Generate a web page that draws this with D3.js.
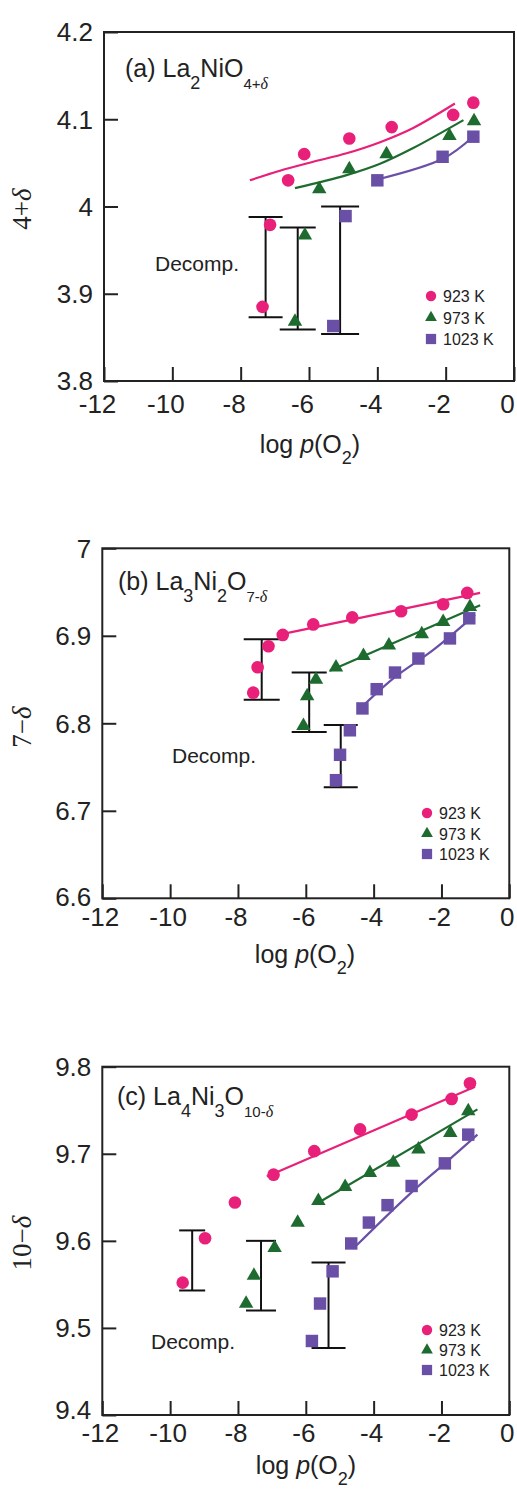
<!DOCTYPE html>
<head>
  <meta charset="utf-8">
  <script src="https://d3js.org/d3.v7.min.js"></script>
  <style>
    body { margin:0; background:#fff; }
    svg { display:block; }
    text { font-family: "Liberation Sans", Arial, sans-serif; fill:#222; }
    .serif { font-family: "Liberation Serif", "Times New Roman", serif; }
  </style>
</head>
<body>
<script>
// ---- data ----
var xTicks = [-12, -10, -8, -6, -4, -2, 0];
var temps = ["923 K", "973 K", "1023 K"];
var colors = ["#e8207a", "#1e6b30", "#6a4fa6"];

// (a) La2NiO4+d
var aTicks = [3.8, 3.9, 4, 4.1, 4.2];
var a923 = [[-6.61,4.030],[-6.14,4.060],[-4.82,4.078],[-3.58,4.091],[-1.78,4.105],[-1.19,4.119]];
var a923Dec = [[-7.14,3.979],[-7.36,3.885]];
var a923Fit = [[-7.73,4.030],[-6.85,4.041],[-5.9,4.051],[-4.9,4.061],[-3.9,4.074],[-2.95,4.090],[-1.73,4.118]];
var a973 = [[-5.70,4.020],[-4.82,4.043],[-3.73,4.060],[-1.89,4.081],[-1.17,4.098]];
var a973Dec = [[-6.12,3.967],[-6.41,3.868]];
var a973Fit = [[-6.41,4.021],[-4.9,4.036],[-3.92,4.049],[-2.95,4.067],[-1.48,4.099]];
var a1023 = [[-4.00,4.030],[-2.09,4.057],[-1.19,4.080]];
var a1023Dec = [[-4.93,3.989],[-5.29,3.863]];
var a1023Fit = [[-4.00,4.031],[-2.07,4.055],[-1.2,4.080]];
var aBars = [[-7.27,3.873,3.988],[-6.33,3.859,3.976],[-5.09,3.854,4.000]];

// (b) La3Ni2O7-d
var bTicks = [6.6, 6.7, 6.8, 6.9, 7];
var b923 = [[-6.68,6.901],[-5.78,6.913],[-4.63,6.921],[-3.19,6.928],[-1.95,6.936],[-1.24,6.949]];
var b923Dec = [[-7.10,6.888],[-7.42,6.864],[-7.55,6.835]];
var b923Fit = [[-6.81,6.901],[-0.86,6.949]];
var b973 = [[-5.11,6.864],[-4.30,6.877],[-3.55,6.889],[-2.58,6.902],[-1.95,6.916],[-1.16,6.933]];
var b973Dec = [[-5.70,6.850],[-5.96,6.831],[-6.07,6.797]];
var b973Fit = [[-5.29,6.860],[-0.86,6.935]];
var b1023 = [[-4.33,6.817],[-3.91,6.839],[-3.37,6.858],[-2.68,6.874],[-1.75,6.897],[-1.18,6.920]];
var b1023Dec = [[-4.70,6.792],[-4.99,6.764],[-5.11,6.735]];
var b1023Fit = [[-4.45,6.815],[-3.4,6.852],[-2.24,6.884],[-1.01,6.924]];
var bBars = [[-7.30,6.827,6.896],[-5.90,6.790,6.858],[-4.97,6.727,6.798]];

// (c) La4Ni3O10-d
var cTicks = [9.4, 9.5, 9.6, 9.7, 9.8];
var c923 = [[-8.09,9.644],[-6.95,9.676],[-5.75,9.703],[-4.40,9.728],[-2.88,9.745],[-1.70,9.763],[-1.16,9.781]];
var c923Dec = [[-8.97,9.603],[-9.63,9.552]];
var c923Fit = [[-7.15,9.674],[-1.01,9.777]];
var c973 = [[-6.24,9.621],[-5.63,9.646],[-4.84,9.662],[-4.11,9.678],[-3.42,9.690],[-2.68,9.705],[-1.74,9.724],[-1.21,9.749]];
var c973Dec = [[-6.92,9.592],[-7.53,9.560],[-7.76,9.528]];
var c973Fit = [[-5.62,9.644],[-0.94,9.751]];
var c1023 = [[-4.66,9.597],[-4.14,9.621],[-3.59,9.641],[-2.88,9.663],[-1.90,9.689],[-1.21,9.722]];
var c1023Dec = [[-5.21,9.565],[-5.58,9.528],[-5.82,9.485]];
var c1023Fit = [[-4.50,9.595],[-2.93,9.654],[-1.9,9.689],[-0.94,9.722]];
var cBars = [[-9.35,9.543,9.612],[-7.32,9.520,9.600],[-5.33,9.477,9.575]];

// ---- layout ----
var panels = [
  { left:104, right:514, top:32, bottom:381, ticks:aTicks, lowShift:0,
    pts:[a923.concat(a923Dec), a973.concat(a973Dec), a1023.concat(a1023Dec)],
    fits:[a923Fit, a973Fit, a1023Fit], bars:aBars, caps:[17,18,19],
    ylab:"4+\u03b4", ylabY:209, xlabDx:-7, xlabGap:32, xtitle:[310,453], titleX:125, titleY:77,
    title:[["(a) La",0],["2",1],["NiO",0],["4+",2],["\u03b4",3]],
    decomp:[155,271], legend:[431,443,296,21.5] },
  { left:102.3, right:509.3, top:548.3, bottom:898.3, ticks:bTicks, lowShift:-2,
    pts:[b923.concat(b923Dec), b973.concat(b973Dec), b1023.concat(b1023Dec)],
    fits:[b923Fit, b973Fit, b1023Fit], bars:bBars, caps:[18,17.5,17],
    ylab:"7\u2212\u03b4", ylabY:727, xlabDx:-2.5, xlabGap:28, xtitle:[305,963], titleX:118, titleY:590,
    title:[["(b) La",0],["3",1],["Ni",0],["2",1],["O",0],["7-",2],["\u03b4",3]],
    decomp:[172,763], legend:[427,439,813,20.5] },
  { left:102.3, right:509.3, top:1066.7, bottom:1415, ticks:cTicks, lowShift:-5,
    pts:[c923.concat(c923Dec), c973.concat(c973Dec), c1023.concat(c1023Dec)],
    fits:[c923Fit, c973Fit, c1023Fit], bars:cBars, caps:[13,15,17],
    ylab:"10\u2212\u03b4", ylabY:1243, xlabDx:-2.5, xlabGap:27, xtitle:[306,1474], titleX:117, titleY:1105,
    title:[["(c) La",0],["4",1],["Ni",0],["3",1],["O",0],["10-",2],["\u03b4",3]],
    decomp:[151,1349], legend:[427,439,1330,20] }
];

var svg = d3.select("body").append("svg")
  .attr("width", 517).attr("height", 1490);

var shapes = [d3.symbolCircle, d3.symbolTriangle, d3.symbolSquare];
var sizes = [125, 90, 155];
var legSizes = [85, 60, 105];

panels.forEach(function(p) {
  var x = d3.scaleLinear().domain([-12, 0]).range([p.left, p.right]);
  var y = d3.scaleLinear().domain([p.ticks[0], p.ticks[p.ticks.length-1]]).range([p.bottom, p.top]);
  var g = svg.append("g");

  // frame
  g.append("rect").attr("x", p.left).attr("y", p.top)
    .attr("width", p.right - p.left).attr("height", p.bottom - p.top)
    .attr("fill", "none").attr("stroke", "#222").attr("stroke-width", 2);

  // y axis (inner ticks)
  var ya = g.append("g").attr("transform", "translate(" + p.left + ",0)")
    .call(d3.axisLeft(y).tickValues(p.ticks).tickSizeInner(-14).tickSizeOuter(0)
      .tickFormat(d3.format("")));
  ya.select(".domain").remove();
  ya.selectAll("line").attr("stroke", "#222").attr("stroke-width", 2);
  ya.selectAll("text").attr("font-size", 26).attr("x", -11)
    .attr("y", function(d, i) { return i === 0 ? p.lowShift : 0; })
    .attr("dy", "0.34em")
    .style("font-family", "'Liberation Sans', Arial, sans-serif").attr("fill", "#222");

  // x axis (inner ticks)
  var xa = g.append("g").attr("transform", "translate(0," + p.bottom + ")")
    .call(d3.axisBottom(x).tickValues(xTicks).tickSizeInner(-14).tickSizeOuter(0)
      .tickFormat(d3.format("")));
  xa.select(".domain").remove();
  xa.selectAll("line").attr("stroke", "#222").attr("stroke-width", 2);
  xa.selectAll("text").attr("font-size", 26).attr("y", p.xlabGap).attr("dy", 0)
    .attr("dx", p.xlabDx).text(function(d) { return d < 0 ? "-" + (-d) : d; })
    .style("font-family", "'Liberation Sans', Arial, sans-serif").attr("fill", "#222");

  // x title
  var xt = g.append("text").attr("x", p.xtitle[0]).attr("y", p.xtitle[1])
    .attr("text-anchor", "middle").attr("font-size", 25);
  xt.append("tspan").text("log ");
  xt.append("tspan").attr("font-style", "italic").text("p");
  xt.append("tspan").text("(O");
  xt.append("tspan").attr("font-size", 18).attr("dy", 11).text("2");
  xt.append("tspan").attr("dy", -11).text(")");

  // y title
  g.append("text").attr("class", "serif")
    .attr("transform", "translate(31," + p.ylabY + ") rotate(-90)")
    .attr("text-anchor", "middle").attr("font-size", 27)
    .selectAll("tspan").data(p.ylab.split("")).join("tspan")
    .attr("font-style", function(d) { return d === "\u03b4" ? "italic" : null; })
    .text(function(d) { return d; });

  // panel title with subscripts
  var tt = g.append("text").attr("x", p.titleX).attr("y", p.titleY).attr("font-size", 25);
  var shift = 0;
  p.title.forEach(function(part) {
    var s = tt.append("tspan").text(part[0]);
    var want = part[1] === 0 ? 0 : 12;
    s.attr("dy", want - shift); shift = want;
    if (part[1] === 1) s.attr("font-size", 18);
    if (part[1] === 2) s.attr("font-size", 15);
    if (part[1] === 3) s.attr("font-size", 16).attr("font-style", "italic").attr("class", "serif");
  });

  // fitted lines
  var line = d3.line().x(function(d) { return x(d[0]); }).y(function(d) { return y(d[1]); })
    .curve(d3.curveCatmullRom.alpha(0.5));
  p.fits.forEach(function(f, i) {
    g.append("path").datum(f).attr("d", line).attr("fill", "none")
      .attr("stroke", colors[i]).attr("stroke-width", 2.2).attr("stroke-linejoin", "round");
  });

  // decomposition ranges
  p.bars.forEach(function(b, i) {
    var bx = x(b[0]), w = p.caps[i];
    g.append("line").attr("x1", bx).attr("x2", bx).attr("y1", y(b[1])).attr("y2", y(b[2]))
      .attr("stroke", "#111").attr("stroke-width", 2);
    [b[1], b[2]].forEach(function(v) {
      g.append("line").attr("x1", bx - w).attr("x2", bx + w).attr("y1", y(v)).attr("y2", y(v))
        .attr("stroke", "#111").attr("stroke-width", 2);
    });
  });

  // markers
  p.pts.forEach(function(s, i) {
    g.selectAll(null).data(s).join("path")
      .attr("transform", function(d) { return "translate(" + x(d[0]) + "," + y(d[1]) + ")"; })
      .attr("d", d3.symbol().type(shapes[i]).size(sizes[i]))
      .attr("fill", colors[i]);
  });

  g.append("text").attr("x", p.decomp[0]).attr("y", p.decomp[1]).attr("font-size", 21).text("Decomp.");

  // legend
  temps.forEach(function(t, i) {
    var ly = p.legend[2] + i * p.legend[3];
    g.append("path").attr("transform", "translate(" + p.legend[0] + "," + ly + ")")
      .attr("d", d3.symbol().type(shapes[i]).size(legSizes[i])).attr("fill", colors[i]);
    g.append("text").attr("x", p.legend[1]).attr("y", ly + 6).attr("font-size", 16).text(t);
  });
});
</script>
</body>
